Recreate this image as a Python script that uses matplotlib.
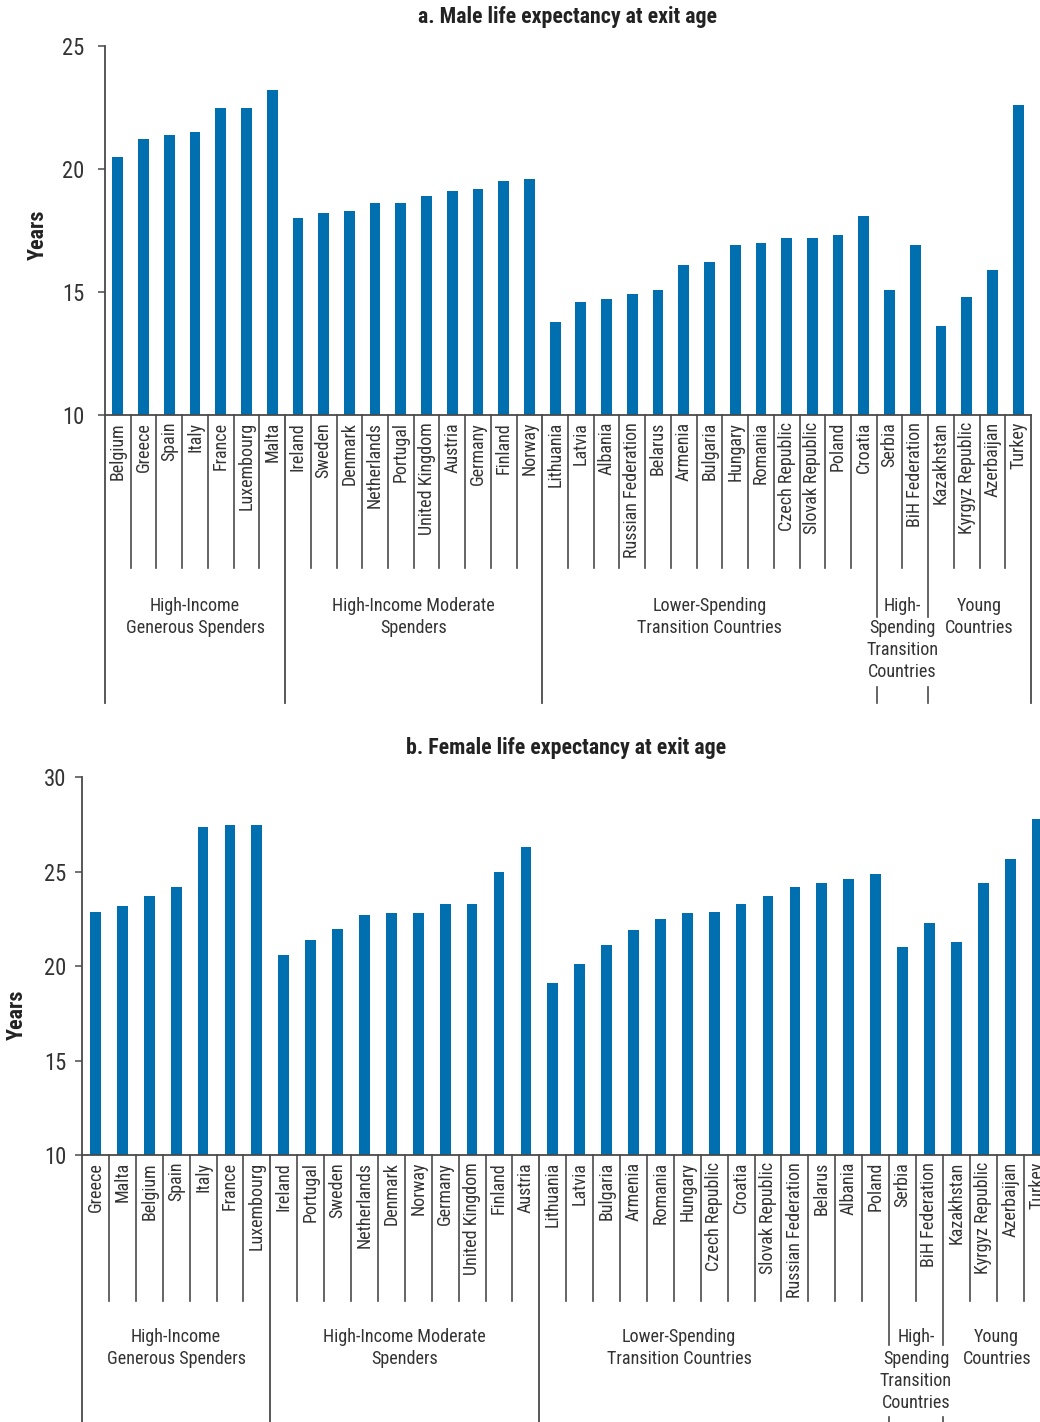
import os
import matplotlib
matplotlib.use("Agg")
import matplotlib.pyplot as plt
from matplotlib import font_manager as fm
from matplotlib.font_manager import FontProperties
from matplotlib.transforms import blended_transform_factory

# ---- data -------------------------------------------------------------
male_countries = ["Belgium", "Greece", "Spain", "Italy", "France", "Luxembourg", "Malta",
                  "Ireland", "Sweden", "Denmark", "Netherlands", "Portugal", "United Kingdom",
                  "Austria", "Germany", "Finland", "Norway",
                  "Lithuania", "Latvia", "Albania", "Russian Federation", "Belarus", "Armenia",
                  "Bulgaria", "Hungary", "Romania", "Czech Republic", "Slovak Republic",
                  "Poland", "Croatia",
                  "Serbia", "BiH Federation",
                  "Kazakhstan", "Kyrgyz Republic", "Azerbaijan", "Turkey"]
male_years = [20.5, 21.2, 21.4, 21.5, 22.5, 22.5, 23.2,
              18.0, 18.2, 18.3, 18.6, 18.6, 18.9, 19.1, 19.2, 19.5, 19.6,
              13.8, 14.6, 14.7, 14.9, 15.1, 16.1, 16.2, 16.9, 17.0, 17.2, 17.2, 17.3, 18.1,
              15.1, 16.9,
              13.6, 14.8, 15.9, 22.6]

female_countries = ["Greece", "Malta", "Belgium", "Spain", "Italy", "France", "Luxembourg",
                    "Ireland", "Portugal", "Sweden", "Netherlands", "Denmark", "Norway",
                    "Germany", "United Kingdom", "Finland", "Austria",
                    "Lithuania", "Latvia", "Bulgaria", "Armenia", "Romania", "Hungary",
                    "Czech Republic", "Croatia", "Slovak Republic", "Russian Federation",
                    "Belarus", "Albania", "Poland",
                    "Serbia", "BiH Federation",
                    "Kazakhstan", "Kyrgyz Republic", "Azerbaijan", "Turkey"]
female_years = [22.9, 23.2, 23.7, 24.2, 27.4, 27.5, 27.5,
                20.6, 21.4, 22.0, 22.7, 22.8, 22.8, 23.3, 23.3, 25.0, 26.3,
                19.1, 20.1, 21.1, 21.9, 22.5, 22.8, 22.9, 23.3, 23.7, 24.2, 24.4, 24.6, 24.9,
                21.0, 22.3,
                21.3, 24.4, 25.7, 27.8]

group_names = ["High-Income\nGenerous Spenders",
               "High-Income Moderate\nSpenders",
               "Lower-Spending\nTransition Countries",
               "High-\nSpending\nTransition\nCountries",
               "Young\nCountries"]
group_sizes = [7, 10, 13, 2, 4]

male_ticks = [10, 15, 20, 25]
female_ticks = [10, 15, 20, 25, 30]

# ---- style ------------------------------------------------------------
BAR = "#006FB0"
INK = "#333333"
LINE = "#4a4a4a"

W, H, DPI = 1040, 1422, 100
fig = plt.figure(figsize=(W / DPI, H / DPI), dpi=DPI)
renderer = fig.canvas.get_renderer()

PREF = ["liberation sans narrow", "roboto condensed", "noto sans", "open sans",
        "dejavu sans", "lato", "inter"]


def _weight(fe):
    w = fe.weight
    if isinstance(w, str):
        w = fm.weight_dict.get(w, 400)
    return int(w)


def condensed_face(target_weight):
    """Return a FontProperties for a narrow sans face, or None."""
    best, best_score = None, None
    for fe in fm.fontManager.ttflist:
        low = fe.name.lower()
        base = os.path.basename(fe.fname).lower()
        st = str(fe.stretch).lower()
        narrow = ("narrow" in low or "condensed" in low or "condensed" in base
                  or "narrow" in base or st in ("condensed", "semi-condensed"))
        if not narrow:
            continue
        if ("extra" in low or "ultra" in low or "extra" in base or "ultra" in base
                or st in ("extra-condensed", "ultra-condensed")):
            continue
        if fe.style != "normal" or "mono" in low or "cjk" in low or "italic" in base:
            continue
        rank = next((i for i, k in enumerate(PREF) if k in low), len(PREF))
        semi = 1 if ("semi" in base or "semi" in st) else 0
        score = (rank, semi, abs(_weight(fe) - target_weight))
        if best_score is None or score < best_score:
            best, best_score = fe, score
    if best is None:
        return None
    return FontProperties(fname=best.fname)


def metrics(s, fp):
    return renderer.get_text_width_height_descent(s, fp, ismath=False)


def fitted(fp, sample, width_px, scale=1.0):
    """Size a face so that the sample string spans about width_px pixels."""
    probe = fp.copy()
    probe.set_size(10)
    size = 10 * width_px / metrics(sample, probe)[0] * scale
    out = fp.copy()
    out.set_size(size)
    return out


def line_spacing(fp, pitch_px):
    _, lp_h, lp_d = metrics("lp", fp)
    return (pitch_px - lp_d) / (lp_h - lp_d)


reg = condensed_face(400) or FontProperties(family=["Liberation Sans", "DejaVu Sans"])
bold = condensed_face(700) or FontProperties(family=["Liberation Sans", "DejaVu Sans"],
                                              weight="bold")
if bold.get_file() is None:
    bold.set_weight("bold")

label_fp = fitted(reg, "Russian Federation", 128, 1.06)
group_fp = fitted(reg, "Generous Spenders", 130, 1.07)
ytick_fp = fitted(reg, "20", 18.3, 1.2)
title_fp = fitted(bold, "a. Male life expectancy at exit age", 299)
ylab_fp = fitted(bold, "Years", 50)
group_ls = line_spacing(group_fp, 22)


def px_rect(left, top, right, bottom):
    return [left / W, 1 - bottom / H, (right - left) / W, (bottom - top) / H]


def draw_panel(rect, countries, values, yticks, title, bar_width, ypad, title_off,
               sep_len, grp_len, gap, label_top, label_shift, ylab_xy):
    ax = fig.add_axes(rect)
    n = len(countries)
    x = list(range(n))
    ax.bar(x, values, width=bar_width, color=BAR, zorder=2)
    ax.set_xlim(-0.5, n - 0.5)
    ax.set_ylim(yticks[0], yticks[-1])
    ax.set_yticks(yticks)
    ax.set_yticklabels([str(t) for t in yticks], color=INK)
    for lab in ax.get_yticklabels():
        lab.set_fontproperties(ytick_fp)
    ax.tick_params(axis="y", direction="out", length=5, width=1.1, color=LINE, pad=ypad)
    ax.set_xticks(x)
    ax.set_xticklabels(countries, rotation=90, color=INK, va="top", ha="center")
    for lab in ax.get_xticklabels():
        lab.set_fontproperties(label_fp)
    ax.tick_params(axis="x", length=0, pad=5)
    for s in ("top", "right"):
        ax.spines[s].set_visible(False)
    for s in ("left", "bottom"):
        ax.spines[s].set_color(LINE)
        ax.spines[s].set_linewidth(1.3)

    ax_h = rect[3] * H
    tr = blended_transform_factory(ax.transData, ax.transAxes)

    def fy(px):
        return -px / ax_h

    # category separators and group boundaries below the axis
    bounds = [0]
    for g in group_sizes:
        bounds.append(bounds[-1] + g)
    for i in range(1, n):
        if i not in bounds:
            ax.plot([i - 0.5, i - 0.5], [0, fy(sep_len)], color=LINE, lw=1.2,
                    transform=tr, clip_on=False)
    split_lines = {bounds[3], bounds[4]}
    for b in bounds:
        xb = b - 0.5
        if b in split_lines:
            ax.plot([xb, xb], [0, fy(gap[0])], color=LINE, lw=1.2, transform=tr, clip_on=False)
            ax.plot([xb, xb], [fy(gap[1]), fy(grp_len)], color=LINE, lw=1.2,
                    transform=tr, clip_on=False)
        else:
            ax.plot([xb, xb], [0, fy(grp_len)], color=LINE, lw=1.3, transform=tr,
                    clip_on=False)

    # group names
    for k, name in enumerate(group_names):
        cx = (bounds[k] + bounds[k + 1]) / 2 - 0.5 + label_shift[k]
        ax.text(cx, fy(label_top), name, transform=tr, ha="center", va="top",
                fontproperties=group_fp, color=INK, linespacing=group_ls)

    ax.annotate(title, xy=(0.5, 1), xycoords="axes fraction", xytext=(0, title_off),
                textcoords="offset points", ha="center", va="center",
                fontproperties=title_fp, color="#222222")
    fig.text(ylab_xy[0] / W, 1 - ylab_xy[1] / H, "Years", rotation=90,
             ha="center", va="center", fontproperties=ylab_fp, color="#222222")
    return ax


draw_panel(px_rect(105, 46, 1031, 415), male_countries, male_years, male_ticks,
           "a. Male life expectancy at exit age", 0.42, 10, 21,
           sep_len=153, grp_len=288, gap=(202, 272), label_top=182,
           label_shift=[0, 0, 0, 0, 0], ylab_xy=(38, 235))

draw_panel(px_rect(82, 777.5, 1050.5, 1155), female_countries, female_years, female_ticks,
           "b. Female life expectancy at exit age", 0.40, 6, 21.5,
           sep_len=146, grp_len=275, gap=(190, 262), label_top=173,
           label_shift=[0, 0, -1.3, 0, 0], ylab_xy=(17, 1015))

fig.savefig("out.png", dpi=DPI)
